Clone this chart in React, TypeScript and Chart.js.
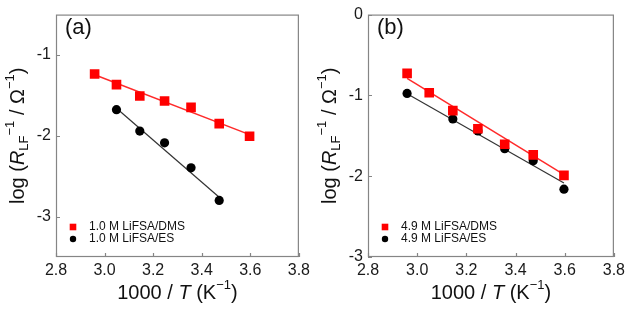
import { useEffect, useRef } from 'react';
import { Chart, registerables } from 'chart.js';

Chart.register(...registerables);

// Axis ticks
const xTicks = [2.8, 3.0, 3.2, 3.4, 3.6, 3.8];
const yTicksA = [-3, -2, -1];
const yTicksB = [-3, -2, -1, 0];

// (a) 1.0 M electrolytes
const invTempDmsA = [2.959, 3.049, 3.145, 3.247, 3.356, 3.472, 3.597];
const logDmsA = [-1.235, -1.367, -1.508, -1.569, -1.648, -1.849, -2.005];
const invTempEsA = [3.049, 3.145, 3.247, 3.356, 3.472];
const logEsA = [-1.677, -1.942, -2.087, -2.396, -2.8];
const fitXDmsA = [2.959, 3.597];
const fitYDmsA = [-1.245, -1.985];
const fitXEsA = [3.049, 3.472];
const fitYEsA = [-1.66, -2.76];

// (b) 4.9 M electrolytes
const invTempDmsB = [2.959, 3.049, 3.145, 3.247, 3.356, 3.472, 3.597];
const logDmsB = [-0.727, -0.967, -1.188, -1.412, -1.604, -1.736, -1.99];
const invTempEsB = [2.959, 3.145, 3.247, 3.356, 3.472, 3.597];
const logEsB = [-0.976, -1.292, -1.44, -1.66, -1.81, -2.16];
const fitXDmsB = [2.959, 3.597];
const fitYDmsB = [-0.79, -1.98];
const fitXEsB = [2.959, 3.597];
const fitYEsB = [-0.98, -2.085];

const legendA = ['1.0 M LiFSA/DMS', '1.0 M LiFSA/ES'];
const legendB = ['4.9 M LiFSA/DMS', '4.9 M LiFSA/ES'];

const RED = '#ff0000';
const BLACK = '#000000';
const FRAME = '#858585';
const FONT = '"Liberation Sans", Arial, Helvetica, sans-serif';

type Seg = { t: string; it?: boolean; s?: 'sub' | 'sup' };

const yTitle: Seg[] = [
  { t: 'log (' },
  { t: 'R', it: true },
  { t: 'LF', s: 'sub' },
  { t: '\u22121', s: 'sup' },
  { t: ' / \u03A9' },
  { t: '\u22121', s: 'sup' },
  { t: ')' },
];
const xTitle: Seg[] = [
  { t: '1000 / ' },
  { t: 'T', it: true },
  { t: ' (K' },
  { t: '\u22121', s: 'sup' },
  { t: ')' },
];

function drawRich(ctx: CanvasRenderingContext2D, segs: Seg[], x: number, y: number, size: number, rotate: boolean) {
  ctx.save();
  ctx.translate(x, y);
  if (rotate) ctx.rotate(-Math.PI / 2);
  const fontFor = (sg: Seg) => `${sg.it ? 'italic ' : ''}${sg.s ? Math.round(size * 0.64) : size}px ${FONT}`;
  let total = 0;
  const widths = segs.map((sg) => {
    ctx.font = fontFor(sg);
    const w = ctx.measureText(sg.t).width;
    total += w;
    return w;
  });
  let cx = -total / 2;
  ctx.textBaseline = 'middle';
  ctx.textAlign = 'left';
  ctx.fillStyle = '#111';
  segs.forEach((sg, i) => {
    ctx.font = fontFor(sg);
    const dy = sg.s === 'sub' ? size * 0.3 : sg.s === 'sup' ? -size * 0.4 : 0;
    ctx.fillText(sg.t, cx, dy);
    cx += widths[i];
  });
  ctx.restore();
}

type PanelSpec = {
  label: string;
  yMin: number;
  yMax: number;
  yTicks: number[];
  plotLeft: number;
  plotRight: number;
  canvasWidth: number;
  titleX: number;
  legend: string[];
  dms: { x: number[]; y: number[]; fx: number[]; fy: number[] };
  es: { x: number[]; y: number[]; fx: number[]; fy: number[] };
};

const HEIGHT = 311;
const PLOT_TOP = 8;
const PLOT_BOTTOM = 257;

function pts(xs: number[], ys: number[]) {
  return xs.map((x, i) => ({ x, y: ys[i] }));
}

function makeChart(canvas: HTMLCanvasElement, p: PanelSpec) {
  const decor = {
    id: 'decor',
    afterDraw(chart: any) {
      const ctx = chart.ctx as CanvasRenderingContext2D;
      const { left, right, top, bottom } = chart.chartArea;
      const xs = chart.scales.x;
      const ys = chart.scales.y;
      ctx.save();
      // frame
      ctx.strokeStyle = FRAME;
      ctx.lineWidth = 1.2;
      ctx.strokeRect(left + 0.5, top + 0.5, right - left - 1, bottom - top - 1);
      // inward tick marks
      ctx.beginPath();
      xTicks.forEach((v) => {
        const px = Math.round(xs.getPixelForValue(v)) + 0.5;
        ctx.moveTo(px, bottom);
        ctx.lineTo(px, bottom - 4);
      });
      p.yTicks.forEach((v) => {
        const py = Math.round(ys.getPixelForValue(v)) + 0.5;
        ctx.moveTo(left, py);
        ctx.lineTo(left + 4, py);
      });
      ctx.stroke();
      // panel label
      ctx.fillStyle = '#111';
      ctx.font = `22px ${FONT}`;
      ctx.textBaseline = 'middle';
      ctx.textAlign = 'left';
      ctx.fillText(p.label, left + 9, 28);
      // legend
      const mx = left + 17;
      ctx.fillStyle = RED;
      ctx.fillRect(mx - 3.3, bottom - 30 - 3.3, 6.6, 6.6);
      ctx.fillStyle = BLACK;
      ctx.beginPath();
      ctx.arc(mx, bottom - 18, 3.2, 0, Math.PI * 2);
      ctx.fill();
      ctx.fillStyle = '#111';
      ctx.font = `12px ${FONT}`;
      ctx.fillText(p.legend[0], left + 33, bottom - 30);
      ctx.fillText(p.legend[1], left + 33, bottom - 18);
      ctx.restore();
      // axis titles
      drawRich(ctx, xTitle, (left + right) / 2, 293, 20, false);
      drawRich(ctx, yTitle, p.titleX, (top + bottom) / 2, 20, true);
    },
  };

  return new Chart(canvas, {
    type: 'scatter',
    data: {
      datasets: [
        {
          label: p.legend[0],
          data: pts(p.dms.x, p.dms.y),
          pointStyle: 'rect',
          pointRadius: 6.8,
          pointHoverRadius: 6.8,
          backgroundColor: RED,
          borderColor: RED,
          borderWidth: 0,
          order: 1,
        },
        {
          label: p.legend[1],
          data: pts(p.es.x, p.es.y),
          pointStyle: 'circle',
          pointRadius: 4.6,
          pointHoverRadius: 4.6,
          backgroundColor: BLACK,
          borderColor: BLACK,
          borderWidth: 0,
          order: 2,
        },
        {
          label: 'fit DMS',
          data: pts(p.dms.fx, p.dms.fy),
          showLine: true,
          pointRadius: 0,
          borderColor: '#ff2a2a',
          borderWidth: 1.5,
          order: 3,
        },
        {
          label: 'fit ES',
          data: pts(p.es.fx, p.es.fy),
          showLine: true,
          pointRadius: 0,
          borderColor: '#333333',
          borderWidth: 1.2,
          order: 4,
        },
      ],
    },
    options: {
      responsive: false,
      animation: false,
      devicePixelRatio: 1,
      layout: {
        autoPadding: false,
        padding: { left: 0, top: PLOT_TOP, right: p.canvasWidth - p.plotRight, bottom: 0 },
      },
      plugins: { legend: { display: false }, tooltip: { enabled: false } },
      events: [],
      scales: {
        x: {
          type: 'linear',
          min: 2.8,
          max: 3.8,
          grid: { display: false, drawTicks: false },
          border: { display: false },
          afterBuildTicks: (s: any) => {
            s.ticks = xTicks.map((v) => ({ value: v }));
          },
          afterFit: (s: any) => {
            s.height = HEIGHT - PLOT_BOTTOM;
          },
          ticks: {
            padding: 4,
            color: '#1a1a1a',
            font: { size: 16, family: FONT },
            maxRotation: 0,
            autoSkip: false,
            callback: (v: any) => Number(v).toFixed(1),
          },
        },
        y: {
          type: 'linear',
          min: p.yMin,
          max: p.yMax,
          grid: { display: false, drawTicks: false },
          border: { display: false },
          afterBuildTicks: (s: any) => {
            s.ticks = p.yTicks.map((v) => ({ value: v }));
          },
          afterFit: (s: any) => {
            s.width = p.plotLeft;
          },
          ticks: {
            padding: 5,
            color: '#1a1a1a',
            font: { size: 16, family: FONT },
            autoSkip: false,
            callback: (v: any) => String(v),
          },
        },
      },
    },
    plugins: [decor],
  });
}

const panelA: PanelSpec = {
  label: '(a)',
  yMin: -3.5,
  yMax: -0.5,
  yTicks: yTicksA,
  plotLeft: 56,
  plotRight: 303,
  canvasWidth: 314,
  titleX: 18,
  legend: legendA,
  dms: { x: invTempDmsA, y: logDmsA, fx: fitXDmsA, fy: fitYDmsA },
  es: { x: invTempEsA, y: logEsA, fx: fitXEsA, fy: fitYEsA },
};

const panelB: PanelSpec = {
  label: '(b)',
  yMin: -3,
  yMax: 0,
  yTicks: yTicksB,
  plotLeft: 54,
  plotRight: 301,
  canvasWidth: 315,
  titleX: 16,
  legend: legendB,
  dms: { x: invTempDmsB, y: logDmsB, fx: fitXDmsB, fy: fitYDmsB },
  es: { x: invTempEsB, y: logEsB, fx: fitXEsB, fy: fitYEsB },
};

export default function App() {
  const refA = useRef<HTMLCanvasElement | null>(null);
  const refB = useRef<HTMLCanvasElement | null>(null);

  useEffect(() => {
    document.body.style.margin = '0';
    const a = makeChart(refA.current!, panelA);
    const b = makeChart(refB.current!, panelB);
    return () => {
      a.destroy();
      b.destroy();
    };
  }, []);

  return (
    <div style={{ position: 'relative', width: 629, height: HEIGHT, background: '#fff', overflow: 'hidden' }}>
      <canvas
        ref={refA}
        width={panelA.canvasWidth}
        height={HEIGHT}
        style={{ position: 'absolute', left: 0, top: 0, width: panelA.canvasWidth, height: HEIGHT }}
      />
      <canvas
        ref={refB}
        width={panelB.canvasWidth}
        height={HEIGHT}
        style={{ position: 'absolute', left: 314, top: 0, width: panelB.canvasWidth, height: HEIGHT }}
      />
    </div>
  );
}
